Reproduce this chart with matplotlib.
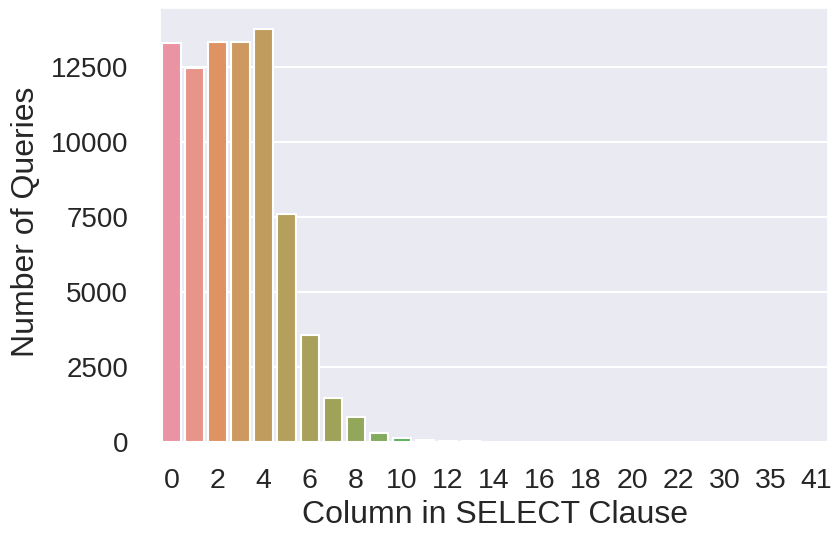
import numpy as np
import pandas as pd
import matplotlib
matplotlib.use("Agg")
import matplotlib.pyplot as plt
import seaborn as sns

# number of columns in the SELECT clause vs number of queries
columns = ["0", "1", "2", "3", "4", "5", "6", "7", "8", "9", "10", "11", "12",
           "13", "14", "15", "16", "17", "18", "19", "20", "21", "22", "24",
           "30", "32", "35", "38", "41"]
counts = [13300, 12480, 13330, 13350, 13760, 7600, 3570, 1460, 840, 310, 120,
          55, 30, 18, 12, 8, 6, 5, 4, 3, 3, 2, 2, 2, 2, 1, 1, 1, 1]
tick_labels = columns[::2]

sns.set_theme(style="darkgrid")
plt.rcParams["font.family"] = ["Liberation Sans", "DejaVu Sans"]

df = pd.DataFrame({"col": columns, "n": counts})

# husl palette, a bit washed out like the original
base = sns.color_palette("husl", len(columns), desat=0.75)
palette = [tuple(0.86 * c + 0.14 for c in rgb) for rgb in base]

fig = plt.figure(figsize=(8.32, 5.34), dpi=100)
ax = fig.add_axes([160 / 832, 1 - 442 / 534, 668 / 832, 434 / 534])

sns.barplot(data=df, x="col", y="n", hue="col", palette=palette,
            legend=False, ax=ax, saturation=1,
            edgecolor="white", linewidth=1.5)

ax.set_xticks(np.arange(0, len(columns), 2))
ax.set_xticklabels(tick_labels)
ax.set_ylim(0, 14467)
ax.set_yticks([0, 2500, 5000, 7500, 10000, 12500])
ax.tick_params(axis="y", labelsize=20, colors="#262626", pad=17)
ax.tick_params(axis="x", labelsize=20.5, colors="#262626", pad=12.5)
ax.set_xlabel("Column in SELECT Clause", fontsize=23, color="#262626",
              va="center")
ax.set_ylabel("Number of Queries", fontsize=23, color="#262626",
              ha="center", va="center")
ax.xaxis.set_label_coords(0.501, -0.168)
ax.yaxis.set_label_coords(-0.2, 0.507)
ax.grid(axis="y", color="white", linewidth=1.5)
ax.grid(axis="x", visible=False)

fig.savefig("out.png", dpi=100)
